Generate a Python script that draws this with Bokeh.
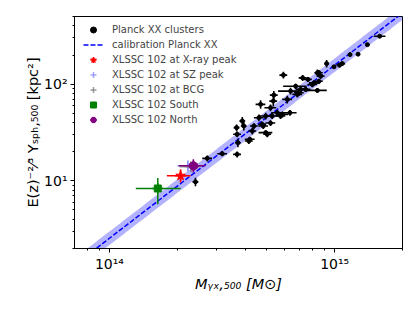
import numpy as np
from bokeh.plotting import figure
from bokeh.models import (ColumnDataSource, Range1d, FixedTicker, Legend, LegendItem)
from bokeh.embed import file_html
from bokeh.resources import INLINE

# ---------------- data ----------------
# Planck XX clusters: mass in 1e14 Msun, Y in kpc^2, fractional errors
planck_mass = [15.85, 13.97, 12.7, 11.7, 10.8, 10.5, 9.93, 9.21, 8.51, 5.92,
               7.21, 7.61, 8.38, 8.09, 8.51, 7.96, 6.71, 7.06, 8.38, 6.37,
               6.94, 6.16, 5.37, 5.34, 4.69, 5.19, 5.56, 5.28, 5.86, 6.33,
               4.94, 4.61, 3.89, 3.95, 3.67, 4.31, 4.82, 4.94, 3.69, 4.20,
               3.72, 4.16, 3.17, 2.72, 3.69, 2.41, 5.02, 5.19, 5.75, 8.67,
               7.43, 6.83, 4.38, 4.77]
planck_y = [313, 256, 204, 202, 163, 157, 151, 163, 131, 124,
            116, 112, 131, 103, 107, 99, 95, 88.2, 86.1, 84.7,
            81.3, 69.5, 77.0, 66.8, 61.8, 57.0, 50.6, 46.8, 48.7, 50.6,
            46.8, 45.0, 41.6, 36.9, 35.5, 32.8, 36.9, 31.5, 30.3, 26.9,
            24.8, 25.8, 19.1, 17.1, 18.8, 9.77, 30.3, 39.6, 46.8, 121,
            88.2, 78.3, 36.9, 38.4]
planck_mass_err = [0.06, 0.02, 0.02, 0.02, 0.03, 0.03, 0.02, 0.02, 0.04, 0.04,
                   0.04, 0.04, 0.03, 0.05, 0.04, 0.05, 0.12, 0.05, 0.10, 0.12,
                   0.05, 0.05, 0.04, 0.04, 0.05, 0.06, 0.06, 0.08, 0.06, 0.07,
                   0.07, 0.05, 0.03, 0.03, 0.03, 0.04, 0.05, 0.07, 0.04, 0.05,
                   0.03, 0.04, 0.05, 0.05, 0.04, 0.03, 0.04, 0.05, 0.05, 0.04,
                   0.05, 0.05, 0.04, 0.04]
planck_y_err = [0.02, 0.02, 0.02, 0.03, 0.05, 0.04, 0.03, 0.09, 0.07, 0.08,
                0.07, 0.06, 0.08, 0.06, 0.06, 0.06, 0.06, 0.07, 0.05, 0.08,
                0.07, 0.09, 0.10, 0.12, 0.10, 0.08, 0.07, 0.07, 0.07, 0.07,
                0.08, 0.08, 0.10, 0.10, 0.08, 0.08, 0.07, 0.06, 0.07, 0.06,
                0.10, 0.07, 0.06, 0.07, 0.07, 0.10, 0.07, 0.07, 0.07, 0.06,
                0.06, 0.07, 0.07, 0.07]

# XLSSC 102 measurements
xlssc_names = ["XLSSC 102 at X-ray peak", "XLSSC 102 at SZ peak", "XLSSC 102 at BCG",
               "XLSSC 102 South", "XLSSC 102 North"]
xlssc_mass = [2.07, 2.23, 2.30, 1.64, 2.36]
xlssc_mass_lo = [1.80, 2.00, 2.05, 1.31, 2.03]
xlssc_mass_hi = [2.29, 2.50, 2.55, 2.07, 2.67]
xlssc_y = [11.3, 14.3, 14.0, 8.34, 14.3]
xlssc_y_lo = [9.6, 12.5, 12.4, 5.75, 12.2]
xlssc_y_hi = [13.2, 16.0, 15.8, 10.7, 16.7]
xlssc_colors = ["red", "#7f7fff", "gray", "green", "purple"]
xlssc_alpha = [1.0, 0.7, 0.8, 1.0, 1.0]
xlssc_markers = ["star", "dot", "dot", "square", "hex"]
xlssc_sizes = [10, 12, 12, 7, 9]

# Planck XX calibration  Y = norm * (M / pivot)^slope
calib_norm = 63.0
calib_pivot = 6.0
calib_slope = 1.79
calib_scatter_dex = 0.07

x_tick_values = [1e14, 1e15]
x_tick_labels = ["10¹⁴", "10¹⁵"]
y_tick_values = [10, 100]
y_tick_labels = ["10¹", "10²"]

x_label = "Mᵧₓ,₅₀₀ [M⊙]"
y_label = "E(z)⁻²⁄³ Yₛₚₕ,₅₀₀ [kpc²]"

MSCALE = 1e14
FONT = "DejaVu Sans"
W_FIG, H_FIG = 412, 308

# ---------------- figure ----------------
p = figure(width=W_FIG, height=H_FIG, x_axis_type="log", y_axis_type="log",
           x_range=Range1d(7e13, 2e15), y_range=Range1d(2, 500),
           output_backend="svg", toolbar_location=None,
           min_border_left=74, min_border_right=W_FIG - 402,
           min_border_top=16, min_border_bottom=H_FIG - 248)
p.xgrid.visible = False
p.ygrid.visible = False
p.outline_line_color = "black"
p.outline_line_width = 1

xminor = [8e13, 9e13] + [k * 1e14 for k in range(2, 10)] + [2e15]
yminor = [float(k) for k in range(2, 10)] + [k * 10.0 for k in range(2, 10)] + [k * 100.0 for k in range(2, 6)]
p.xaxis.ticker = FixedTicker(ticks=x_tick_values, minor_ticks=xminor)
p.yaxis.ticker = FixedTicker(ticks=y_tick_values, minor_ticks=yminor)
p.xaxis.major_label_overrides = {v: l for v, l in zip(x_tick_values, x_tick_labels)}
p.yaxis.major_label_overrides = {v: l for v, l in zip(y_tick_values, y_tick_labels)}
for ax in (p.xaxis, p.yaxis):
    ax.major_tick_in = 0
    ax.major_tick_out = 4
    ax.minor_tick_in = 0
    ax.minor_tick_out = 2
    ax.axis_line_color = "black"
    ax.major_tick_line_color = "black"
    ax.minor_tick_line_color = "black"
    ax.major_label_text_font = FONT
    ax.major_label_text_font_size = "14px"
    ax.major_label_text_color = "black"
    ax.major_label_standoff = 3
    ax.axis_label_text_font = FONT
    ax.axis_label_text_color = "black"
    ax.axis_label_text_font_size = "14.5px"

p.xaxis.axis_label = x_label
p.xaxis.axis_label_text_font_style = "italic"
p.xaxis.axis_label_standoff = 1
p.yaxis.axis_label = y_label
p.yaxis.axis_label_text_font_style = "normal"
p.yaxis.axis_label_standoff = 0

# calibration band and line
mgrid = np.logspace(np.log10(7e13), np.log10(2e15), 200)
yline = calib_norm * (mgrid / (calib_pivot * MSCALE)) ** calib_slope
p.varea(x=mgrid, y1=yline * 10 ** (-calib_scatter_dex), y2=yline * 10 ** calib_scatter_dex,
        fill_color="blue", fill_alpha=0.3)
calib = p.line(mgrid, yline, line_color="blue", line_width=1.5, line_dash="5 2")

# Planck points
pm = np.array(planck_mass) * MSCALE
py = np.array(planck_y)
pme = np.array(planck_mass_err)
pye = np.array(planck_y_err)
psrc = ColumnDataSource(dict(m=pm, y=py, m_lo=pm * (1 - pme), m_hi=pm * (1 + pme),
                             y_lo=py * (1 - pye), y_hi=py * (1 + pye)))
p.segment(x0="m_lo", y0="y", x1="m_hi", y1="y", source=psrc, line_color="black", line_width=1.6)
p.segment(x0="m", y0="y_lo", x1="m", y1="y_hi", source=psrc, line_color="black", line_width=1.6)
planck_r = p.scatter("m", "y", source=psrc, size=4, marker="circle", fill_color="black", line_color="black")

items = [LegendItem(label="Planck XX clusters", renderers=[planck_r]),
         LegendItem(label="calibration Planck XX", renderers=[calib])]

for i, name in enumerate(xlssc_names):
    m = xlssc_mass[i] * MSCALE
    src = ColumnDataSource(dict(m=[m], y=[xlssc_y[i]], m_lo=[xlssc_mass_lo[i] * MSCALE],
                                m_hi=[xlssc_mass_hi[i] * MSCALE], y_lo=[xlssc_y_lo[i]], y_hi=[xlssc_y_hi[i]]))
    c, a = xlssc_colors[i], xlssc_alpha[i]
    p.segment(x0="m_lo", y0="y", x1="m_hi", y1="y", source=src, line_color=c, line_alpha=a, line_width=1.5)
    p.segment(x0="m", y0="y_lo", x1="m", y1="y_hi", source=src, line_color=c, line_alpha=a, line_width=1.5)
    # small cross (hidden under the error bars) that gives the legend its error-bar icon
    cross = p.scatter("m", "y", source=src, marker="cross", size=11, line_color=c, line_alpha=a,
                      line_width=1.5)
    mk = xlssc_markers[i]
    r = p.scatter("m", "y", source=src, marker=mk, size=xlssc_sizes[i], fill_color=c, line_color=c,
                  fill_alpha=a, line_alpha=a, angle=(np.pi / 6 if mk == "hex" else 0.0))
    items.append(LegendItem(label=name, renderers=[cross, r]))

legend = Legend(items=items, location=(9, 121), padding=0, margin=0, spacing=0,
                glyph_height=15, glyph_width=20, label_height=15, label_standoff=9,
                label_text_font=FONT, label_text_font_size="10px",
                border_line_alpha=0, background_fill_alpha=0, inactive_fill_alpha=0)
p.add_layout(legend)

open("out.html", "w").write(file_html(p, INLINE))
